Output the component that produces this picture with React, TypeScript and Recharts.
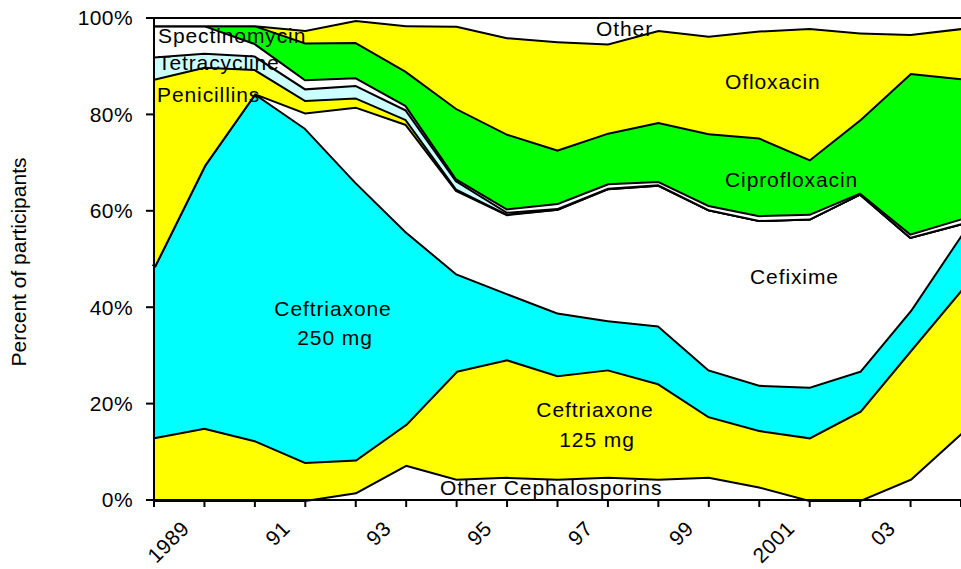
import React from "react";
import { AreaChart, Area, XAxis, YAxis } from "recharts";

const years = [1988, 1989, 1990, 1991, 1992, 1993, 1994, 1995, 1996, 1997, 1998, 1999, 2000, 2001, 2002, 2003, 2004];
const tickLabels = ["", "1989", "", "91", "", "93", "", "95", "", "97", "", "99", "", "2001", "", "03", ""];
const yTicks = [0, 20, 40, 60, 80, 100];

const otherCeph = [0, 0, 0, 0, 1.6, 7.3, 4.4, 4.8, 4.4, 4.8, 4.4, 4.8, 2.8, 0, 0, 4.4, 13.9];
const ceftriaxone125 = [13.0, 15.0, 12.4, 7.9, 6.8, 8.5, 22.4, 24.4, 21.5, 22.3, 19.8, 12.6, 11.7, 13.0, 18.5, 26.7, 29.7];
const ceftriaxone250 = [35.4, 54.5, 72.0, 69.3, 57.6, 39.9, 20.2, 13.7, 13.0, 10.2, 12.0, 9.7, 9.4, 10.5, 8.3, 8.3, 11.4];
const cefixime = [0, 0, 0, 3.2, 15.6, 22.3, 17.3, 16.4, 21.5, 27.4, 29.2, 33.2, 34.2, 34.9, 36.8, 15.2, 2.4];
const penicillins = [39.0, 20.4, 5.0, 2.6, 1.9, 1.0, 0.3, 0.1, 0, 0, 0, 0, 0, 0, 0, 0, 0];
const tetracycline = [4.6, 2.9, 2.8, 2.4, 2.6, 2.0, 1.7, 0.4, 0.2, 0.1, 0.1, 0, 0, 0, 0, 0, 0];
const spectinomycin = [6.5, 5.7, 2.6, 1.9, 1.6, 0.9, 0.4, 0.7, 1.0, 0.9, 0.7, 0.9, 1.0, 1.0, 0.2, 0.7, 1.0];
const ciprofloxacin = [0, 0, 3.7, 7.6, 7.3, 7.1, 14.6, 15.5, 11.1, 10.5, 12.2, 14.9, 16.1, 11.3, 15.2, 33.3, 29.1];
const ofloxacin = [0, 0, 0, 2.6, 4.6, 9.5, 17.1, 20.0, 22.5, 18.5, 19.1, 20.2, 22.2, 27.2, 18.0, 8.1, 10.4];
const other = [1.5, 1.5, 1.5, 2.5, 0.4, 1.5, 1.6, 4.0, 4.8, 5.3, 2.5, 3.7, 2.6, 2.1, 3.0, 3.3, 2.1];

const data = years.map((y, i) => ({
  year: String(y),
  otherCeph: otherCeph[i],
  c125: ceftriaxone125[i],
  c250: ceftriaxone250[i],
  cefixime: cefixime[i],
  pen: penicillins[i],
  tet: tetracycline[i],
  spec: spectinomycin[i],
  cipro: ciprofloxacin[i],
  oflox: ofloxacin[i],
  other: other[i],
}));

const FONT = "'Liberation Sans', Arial, sans-serif";

const series = [
  { key: "otherCeph", fill: "#FFFFFF" },
  { key: "c125", fill: "#FFFF00" },
  { key: "c250", fill: "#00FFFF" },
  { key: "cefixime", fill: "#FFFFFF" },
  { key: "pen", fill: "#FFFF00" },
  { key: "tet", fill: "#CCFFFF" },
  { key: "spec", fill: "#FFFFFF" },
  { key: "cipro", fill: "#00FF00" },
  { key: "oflox", fill: "#FFFF00" },
  { key: "other", fill: "#FFFFFF" },
];

const XTick = (props: any) => {
  const { x, y, index } = props;
  const label = tickLabels[index];
  if (!label) return <g />;
  return (
    <g transform={`translate(${x - 14},${y + 21})`}>
      <text textAnchor="end" transform="rotate(-45)" fontSize={21} fontFamily={FONT} fill="#000" letterSpacing={0.4}>
        {label}
      </text>
    </g>
  );
};

const annotationStyle = { fontSize: 21, fontFamily: FONT, fill: "#000", letterSpacing: 0.9 } as any;

const annotations = [
  { text: "Spectinomycin", x: 158, y: 43, anchor: "start" },
  { text: "Tetracycline", x: 158, y: 70, anchor: "start" },
  { text: "Penicillins", x: 157, y: 102, anchor: "start" },
  { text: "Other", x: 596, y: 36, anchor: "start" },
  { text: "Ofloxacin", x: 725, y: 89, anchor: "start" },
  { text: "Ciprofloxacin", x: 725, y: 187, anchor: "start" },
  { text: "Cefixime", x: 750, y: 284, anchor: "start" },
  { text: "Ceftriaxone", x: 333, y: 316, anchor: "middle" },
  { text: "250 mg", x: 335, y: 345, anchor: "middle" },
  { text: "Ceftriaxone", x: 595, y: 417, anchor: "middle" },
  { text: "125 mg", x: 597, y: 447, anchor: "middle" },
  { text: "Other Cephalosporins", x: 440, y: 495, anchor: "start" },
];

export default function App() {
  return (
    <div style={{ position: "absolute", left: 0, top: 0, width: 961, height: 569, background: "#fff" }}>
      <AreaChart width={961} height={569} data={data} margin={{ top: 18, right: 0, left: 0, bottom: 0 }}>
        <XAxis
          dataKey="year"
          interval={0}
          height={69}
          tick={<XTick />}
          tickSize={7}
          axisLine={{ stroke: "#000", strokeWidth: 2 }}
          tickLine={{ stroke: "#000", strokeWidth: 2 }}
        />
        <YAxis
          width={154}
          domain={[0, 100]}
          ticks={yTicks}
          tickFormatter={(v: number) => `${v}%`}
          tickSize={8}
          tickMargin={13}
          axisLine={{ stroke: "#000", strokeWidth: 2 }}
          tickLine={{ stroke: "#000", strokeWidth: 2 }}
          tick={{ fontSize: 21, fontFamily: FONT, fill: "#000", letterSpacing: 0.4 } as any}
          label={(p: any) => {
            const vb = p.viewBox || { x: 0, y: 18, width: 154, height: 482 };
            const cx = 26;
            const cy = vb.y + vb.height / 2 + 3;
            return (
              <text
                x={cx}
                y={cy}
                transform={`rotate(-90 ${cx} ${cy})`}
                textAnchor="middle"
                fontSize={21}
                fontFamily={FONT}
                fill="#000"
              >
                Percent of participants
              </text>
            );
          }}
        />
        {series.map((s) => (
          <Area
            key={s.key}
            dataKey={s.key}
            stackId="1"
            type="linear"
            fill={s.fill}
            fillOpacity={1}
            stroke="#000"
            strokeWidth={s.key === "other" ? 2 : 4}
            isAnimationActive={false}
            dot={false}
            activeDot={false}
          />
        ))}
      </AreaChart>
      <svg
        width={961}
        height={569}
        style={{ position: "absolute", left: 0, top: 0, pointerEvents: "none" }}
      >
        {annotations.map((a, i) => (
          <text key={i} x={a.x} y={a.y} textAnchor={a.anchor as any} {...annotationStyle}>
            {a.text}
          </text>
        ))}
      </svg>
    </div>
  );
}
